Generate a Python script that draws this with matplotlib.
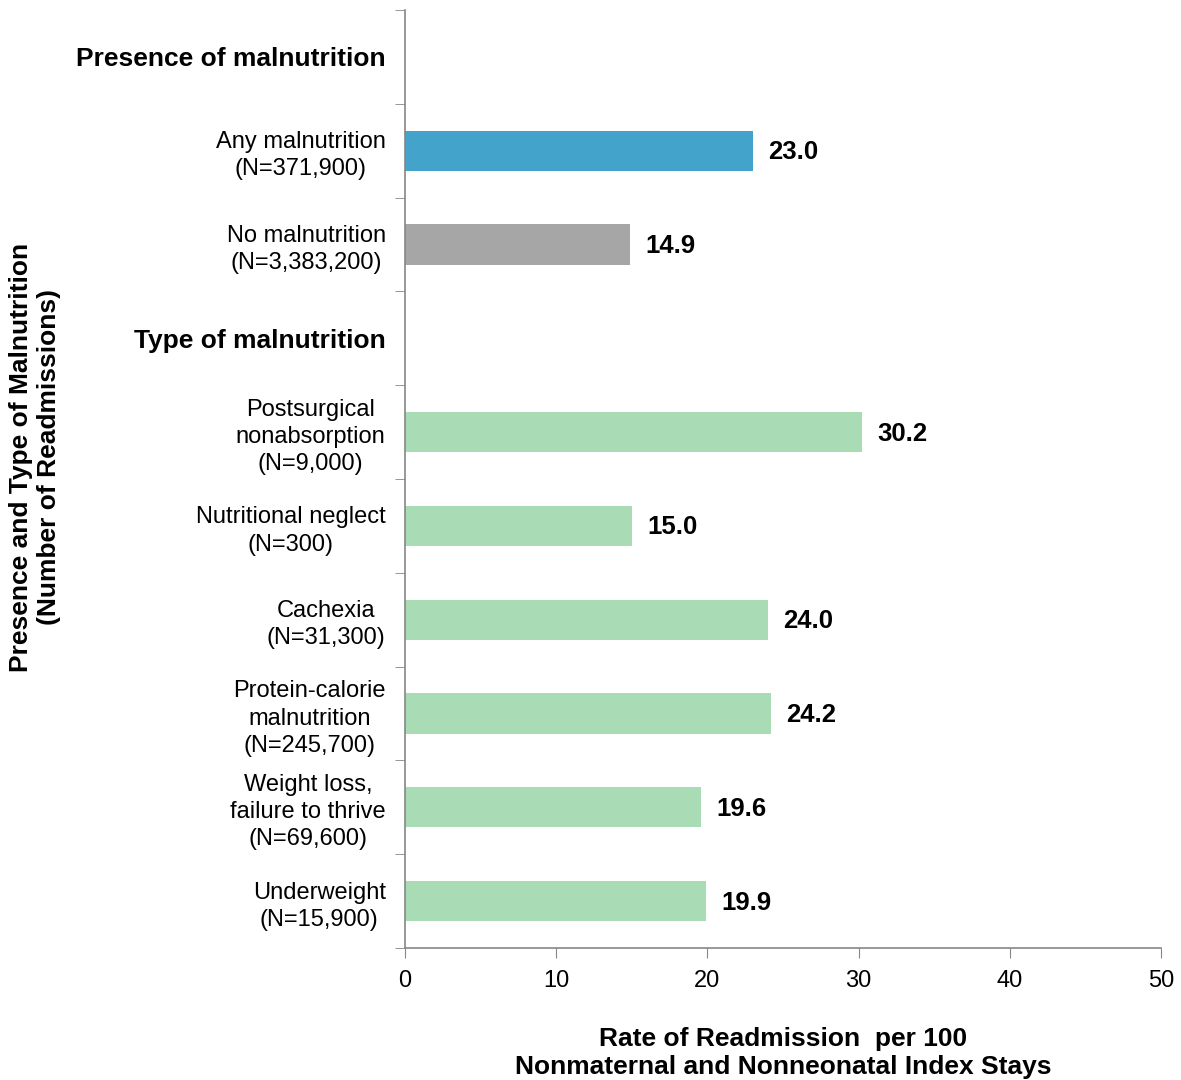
import numpy as np
import matplotlib.pyplot as plt

plt.rcParams['font.family'] = ['Liberation Sans', 'DejaVu Sans']

# Data
labels = ["Presence of malnutrition",
          "Any malnutrition\n(N=371,900)",
          "No malnutrition\n(N=3,383,200)",
          "Type of malnutrition",
          "Postsurgical\nnonabsorption\n(N=9,000)",
          "Nutritional neglect\n(N=300)",
          "Cachexia\n(N=31,300)",
          "Protein-calorie\nmalnutrition\n(N=245,700)",
          "Weight loss,\nfailure to thrive\n(N=69,600)",
          "Underweight\n(N=15,900)"]
rates = [np.nan, 23.0, 14.9, np.nan, 30.2, 15.0, 24.0, 24.2, 19.6, 19.9]
headers = [0, 3]

blue = '#43A3CB'
gray = '#A6A6A6'
green = '#A9DCB5'
colors = [blue if i == 1 else gray if i == 2 else green for i in range(len(labels))]

fig = plt.figure(figsize=(11.81, 10.8), dpi=100)
ax = fig.add_axes([0.343, 0.1222, 0.640, 0.8685])

y = np.arange(len(labels))
vals = np.nan_to_num(rates)
ax.barh(y, vals, height=0.43, color=colors)

for yi, v in zip(y, rates):
    if not np.isnan(v):
        ax.annotate(f"{v:.1f}", (v, yi), xytext=(11, -1), textcoords='offset points',
                    va='center', ha='left', fontsize=18.5, fontweight='bold')

ax.set_ylim(len(labels) - 0.5, -0.5)
ax.set_xlim(0, 50)
ax.set_xticks(np.arange(0, 51, 10))
ax.set_yticks(y)
ax.set_yticklabels(labels, fontsize=17, multialignment='center', linespacing=1.3)
for i in headers:
    ax.get_yticklabels()[i].set_fontweight('bold')
    ax.get_yticklabels()[i].set_fontsize(19)
ax.set_yticks(np.arange(-0.5, len(labels), 1), minor=True)
ax.tick_params(axis='y', which='major', length=0, pad=14)
ax.tick_params(axis='y', which='minor', length=7, color='#868686', direction='out')
ax.tick_params(axis='x', length=7, color='#868686', labelsize=17, pad=9)

for s in ['top', 'right']:
    ax.spines[s].set_visible(False)
for s in ['left', 'bottom']:
    ax.spines[s].set_color('#868686')
    ax.spines[s].set_linewidth(1.2)

fig.text(783 / 1181, 1 - 1053 / 1080,
         "Rate of Readmission  per 100\nNonmaternal and Nonneonatal Index Stays",
         fontsize=19, fontweight='bold', ha='center', va='center', linespacing=1.18)
fig.text(35 / 1181, 1 - 457 / 1080,
         "Presence and Type of Malnutrition\n(Number of Readmissions)",
         fontsize=19, fontweight='bold', ha='center', va='center', rotation=90,
         linespacing=1.25)

fig.savefig('out.png', dpi=100)
